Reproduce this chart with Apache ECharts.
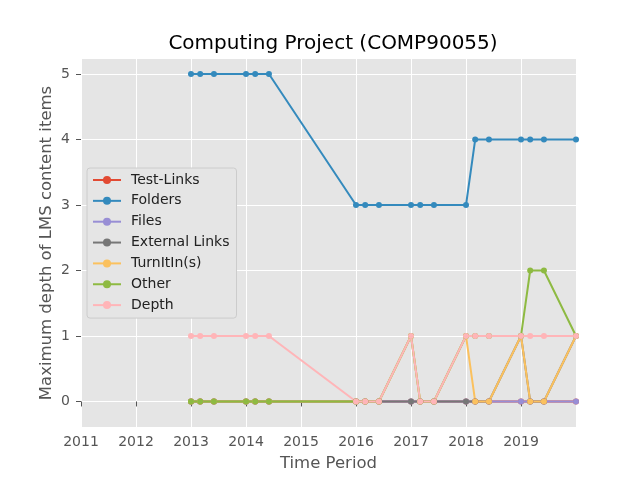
<!DOCTYPE html>
<html>
<head>
<meta charset="utf-8">
<script src="https://cdn.jsdelivr.net/npm/echarts@6/dist/echarts.min.js"></script>
<style>html,body{margin:0;padding:0;background:#fff}#c{width:640px;height:480px}</style>
</head>
<body>
<div id="c"></div>
<script>
const periods = [2013, 2013.167, 2013.417, 2014, 2014.167, 2014.417, 2016, 2016.167, 2016.417, 2017, 2017.167, 2017.417, 2018, 2018.167, 2018.417, 2019, 2019.167, 2019.417, 2020];
const testLinks     = [0,0,0,0,0,0,0,0,0,0,0,0,0,0,0,0,0,0,0];
const folders       = [5,5,5,5,5,5,3,3,3,3,3,3,3,4,4,4,4,4,4];
const files         = [0,0,0,0,0,0,0,0,0,0,0,0,0,0,0,0,0,0,0];
const externalLinks = [0,0,0,0,0,0,0,0,0,0,0,0,0,0,0,1,0,0,1];
const turnitin      = [0,0,0,0,0,0,0,0,0,1,0,0,1,0,0,1,0,0,1];
const other         = [0,0,0,0,0,0,0,0,0,1,0,0,1,1,1,1,2,2,1];
const depth         = [1,1,1,1,1,1,0,0,0,1,0,0,1,1,1,1,1,1,1];
const seriesNames = ['Test-Links','Folders','Files','External Links','TurnItIn(s)','Other','Depth'];
const seriesValues = [testLinks, folders, files, externalLinks, turnitin, other, depth];
const colors = ['#E24A33','#348ABD','#988ED5','#777777','#FBC15E','#8EBA42','#FFB5B8'];
const xTicks = [2011,2012,2013,2014,2015,2016,2017,2018,2019];
const yTicks = [0,1,2,3,4,5];

const FONT = 'DejaVu Sans';
const chart = echarts.init(document.getElementById('c'), null, {renderer:'canvas'});
chart.setOption({
  animation: false,
  backgroundColor: '#ffffff',
  title: {
    text: 'Computing Project (COMP90055)',
    left: 328, top: 29, textAlign: 'center',
    textStyle: {fontFamily: FONT, fontSize: 20, fontWeight: 'normal', color: '#000'}
  },
  grid: {left: 81, right: 64, top: 59, bottom: 53, show: true, backgroundColor: '#E5E5E5', borderWidth: 0},
  legend: {
    orient: 'vertical', left: 87, top: 168,
    data: seriesNames,
    itemWidth: 28, itemHeight: 10, itemGap: 6.85,
    padding: [5, 7, 6, 5],
    backgroundColor: '#E5E5E5', borderColor: '#CCCCCC', borderWidth: 1, borderRadius: 3,
    textStyle: {fontFamily: FONT, fontSize: 14, color: '#222', lineHeight: 14, padding: [0,0,0,5]}
  },
  xAxis: {
    type: 'value', min: 2011, max: 2020,
    name: 'Time Period', nameLocation: 'middle', nameGap: 28, nameMoveOverlap: false,
    nameTextStyle: {fontFamily: FONT, fontSize: 16.5, color: '#555555'},
    axisLine: {show: false},
    axisTick: {show: true, length: 5, customValues: xTicks, lineStyle: {color: '#555555'}},
    axisLabel: {customValues: xTicks, fontFamily: FONT, fontSize: 14, color: '#555555', margin: 8, formatter: v => String(v)},
    splitLine: {show: true, lineStyle: {color: '#ffffff', width: 1}}
  },
  yAxis: {
    type: 'value', min: -0.39, max: 5.23,
    name: 'Maximum depth of LMS content items', nameLocation: 'middle', nameGap: 26, nameMoveOverlap: false,
    nameTextStyle: {fontFamily: FONT, fontSize: 16.5, color: '#555555'},
    axisLine: {show: false},
    axisTick: {show: true, length: 5, customValues: yTicks, lineStyle: {color: '#555555'}},
    axisLabel: {customValues: yTicks, fontFamily: FONT, fontSize: 14, color: '#555555', margin: 11, formatter: v => String(v)},
    splitLine: {show: true, lineStyle: {color: '#ffffff', width: 1}}
  },
  series: seriesNames.map((name, i) => ({
    name: name, type: 'line',
    data: periods.map((p, j) => [p, seriesValues[i][j]]),
    symbol: 'circle', symbolSize: 6, showSymbol: true,
    color: colors[i],
    itemStyle: {color: colors[i]},
    lineStyle: {color: colors[i], width: 2},
    clip: false
  }))
});
</script>
</body>
</html>
